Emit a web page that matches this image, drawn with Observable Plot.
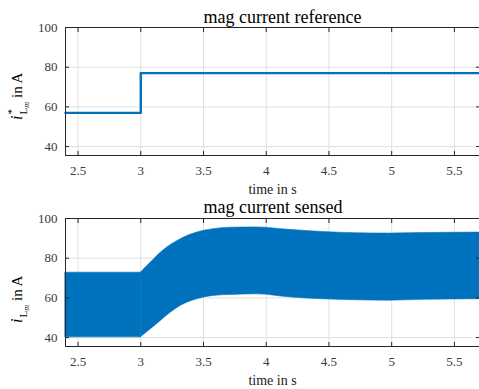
<!DOCTYPE html>
<html><head><meta charset="utf-8">
<script src="https://cdn.jsdelivr.net/npm/d3@7"></script>
<script src="https://cdn.jsdelivr.net/npm/@observablehq/plot@0.6"></script>
<style>
html,body{margin:0;padding:0;background:#fff;}
#chart{position:relative;width:479px;height:389px;overflow:hidden;background:#fff;}
#chart svg{position:absolute;left:0;display:block;}
#chart svg text, #chart svg tspan{font-family:'Liberation Serif','Times New Roman',serif !important;}
</style></head><body><div id="chart"></div>
<script>
const xDomain = [2.4, 5.7];
const yDomain = [35.5, 100];
const xTicks = [2.5, 3, 3.5, 4, 4.5, 5, 5.5];
const yTicks = [40, 60, 80, 100];
const refTime = [2.4, 3.0, 5.7];
const refCurrent = [57, 77, 77];
const sensedTime  = [2.4, 3.0, 3.08, 3.16, 3.24, 3.32, 3.45, 3.58, 3.72, 3.93, 4.18, 4.45, 4.71, 4.98, 5.25, 5.7];
const sensedUpper = [72.7, 72.7, 77.8, 82.8, 86.7, 89.6, 92.9, 94.6, 95.4, 95.5, 94.3, 93.2, 92.6, 92.4, 92.7, 92.9];
const sensedLower = [40.1, 40.1, 44.2, 48.4, 52.6, 56.0, 59.3, 61.0, 61.5, 61.8, 60.3, 59.3, 58.8, 58.6, 59.0, 59.3];
const titles = ["mag current reference", "mag current sensed"];
const xLabel = "time in s";

const font = "'Liberation Serif', 'Times New Roman', serif";
const blue = "#0072BD", axisColor = "#262626", labelColor = "#3a3a3a", gridColor = "#e0e0e0";

const refData = refTime.map((t, i) => ({t, v: refCurrent[i]}));
const sensedData = sensedTime.map((t, i) => ({t, hi: sensedUpper[i], lo: sensedLower[i]}));

function axes() {
  return [
    Plot.frame({stroke: axisColor, strokeWidth: 1}),
    Plot.axisX(xTicks, {anchor: "bottom", tickSize: 0, tickPadding: 10, fontSize: 13, fontFamily: font, fill: labelColor, label: null, tickFormat: d => String(d)}),
    Plot.axisX(xTicks, {anchor: "bottom", tickSize: -4, stroke: axisColor, tickFormat: () => "", label: null}),
    Plot.axisX(xTicks, {anchor: "top", tickSize: -4, stroke: axisColor, tickFormat: () => "", label: null}),
    Plot.axisY(yTicks, {anchor: "left", tickSize: 0, tickPadding: 8, fontSize: 13, fontFamily: font, fill: labelColor, label: null, tickFormat: d => String(d)}),
    Plot.axisY(yTicks, {anchor: "left", tickSize: -4, stroke: axisColor, tickFormat: () => "", label: null}),
    Plot.axisY(yTicks, {anchor: "right", tickSize: -4, stroke: axisColor, tickFormat: () => "", label: null})
  ];
}

function panel({height, marginTop, marginBottom, title, titleDy, marks}) {
  return Plot.plot({
    width: 479, height, marginLeft: 65, marginRight: 0, marginTop, marginBottom,
    x: {domain: xDomain}, y: {domain: yDomain},
    style: {fontFamily: font, background: "transparent", overflow: "visible"},
    marks: [
      Plot.gridX(xTicks, {stroke: gridColor, strokeOpacity: 1}),
      Plot.gridY(yTicks, {stroke: gridColor, strokeOpacity: 1}),
      ...marks,
      ...axes(),
      Plot.text([title], {frameAnchor: "top-left", textAnchor: "start", lineAnchor: "bottom", dx: 138, dy: titleDy, fontSize: 18, fontFamily: font, fill: "#000"}),
      Plot.text([xLabel], {frameAnchor: "bottom", lineAnchor: "bottom", dy: 38, fontSize: 14, fontFamily: font, fill: "#222"})
    ]
  });
}

function addYLabel(svg, x, y, star) {
  const t = d3.select(svg).append("text")
    .attr("transform", `translate(${x},${y}) rotate(-90)`)
    .attr("font-family", font).attr("font-size", 16).attr("fill", "#000").attr("text-anchor", "start");
  t.append("tspan").attr("font-style", "italic").text("i");
  if (star) {
    t.append("tspan").attr("font-size", 11).attr("dy", -7).attr("dx", 1).text("*");
    t.append("tspan").attr("font-size", 11).attr("dy", 12).attr("dx", -5.5).text("L");
  } else {
    t.append("tspan").attr("font-size", 11).attr("dy", 5).attr("dx", 1).text("L");
  }
  t.append("tspan").attr("font-size", 8).attr("font-style", "italic").attr("dy", 2).text("m");
  t.append("tspan").attr("font-size", 15).attr("dy", -7).attr("dx", 4).text("in A");
}

const topPanel = panel({
  height: 194, marginTop: 27, marginBottom: 39, title: titles[0], titleDy: -4.5,
  marks: [Plot.line(refData, {x: "t", y: "v", curve: "step-after", stroke: blue, strokeWidth: 2.4})]
});
const bottomPanel = panel({
  height: 195, marginTop: 24, marginBottom: 43, title: titles[1], titleDy: -5.3,
  marks: [
    Plot.areaY(sensedData, {filter: d => d.t <= 3.0, x: "t", y1: "lo", y2: "hi", fill: blue, stroke: blue, strokeWidth: 0.6, curve: "linear"}),
    Plot.areaY(sensedData, {filter: d => d.t >= 3.0, x: "t", y1: "lo", y2: "hi", fill: blue, stroke: blue, strokeWidth: 0.6, curve: "monotone-x"})
  ]
});
topPanel.style.top = "0px";
bottomPanel.style.top = "194px";
addYLabel(topPanel, 22, 120, true);
addYLabel(bottomPanel, 22, 129, false);
const chartDiv = document.getElementById("chart");
chartDiv.appendChild(topPanel);
chartDiv.appendChild(bottomPanel);
</script>
</body></html>
